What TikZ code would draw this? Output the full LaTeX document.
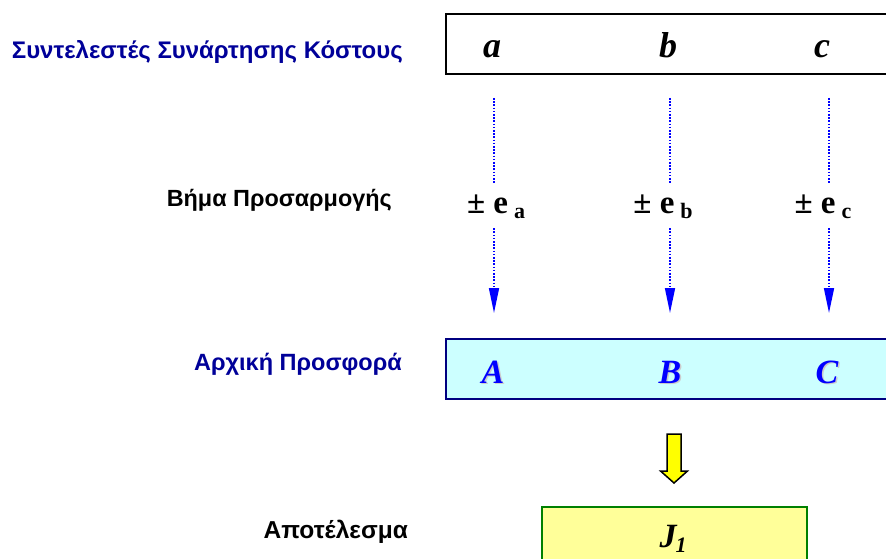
\documentclass[tikz,border=0pt]{standalone}
\usepackage{fontspec}
\setmainfont{Liberation Serif}
\setsansfont{Liberation Sans}
\usepackage{tikz}
\usetikzlibrary{arrows.meta,positioning,calc}
\definecolor{dgnavy}{HTML}{000099}
\definecolor{dgblue}{HTML}{0000FF}
\definecolor{dgcyan}{HTML}{CCFFFF}
\definecolor{dgframe}{HTML}{000080}
\definecolor{dgyellow}{HTML}{FFFF00}
\definecolor{dgpale}{HTML}{FFFF99}
\definecolor{dggreen}{HTML}{008000}
\tikzset{
  rowlabel/.style={anchor=base east,inner sep=0pt,font=\sffamily\bfseries\fontsize{#1}{28}\selectfont},
  coefletter/.style={anchor=base,inner sep=0pt,font=\bfseries\itshape\fontsize{36}{40}\selectfont},
  offerletter/.style={anchor=base,inner sep=0pt,text=dgblue,font=\bfseries\itshape\fontsize{34}{38}\selectfont},
  steplabel/.style={anchor=base,inner sep=0pt,text height=29pt,text depth=15pt,font=\bfseries\fontsize{33}{36}\selectfont},
  rowbox/.style={draw,line width=2pt,minimum width=446pt,minimum height=60pt,inner sep=0pt},
  dotline/.style={dgblue,line width=1.6pt,dash pattern=on 1.6pt off 1.6pt},
  dotarrow/.style={dotline,-{Triangle[length=25pt,width=10pt]}}
}
\newcommand{\stepsym}[1]{± e\kern6pt\raisebox{-5pt}{\fontsize{22}{22}\selectfont #1}}
\begin{document}
\begin{tikzpicture}[x=1pt,y=-1pt]
  \useasboundingbox (0,0) rectangle (886,559);
  \clip (0,0) rectangle (886,559);
  % row labels
  \node[rowlabel=24,text=dgnavy] (lcoef) at (403,59) {Συντελεστές Συνάρτησης Κόστους};
  \node[rowlabel=23.4] (lstep) at (392,206) {Βήμα Προσαρμογής};
  \node[rowlabel=23.5,text=dgnavy] (linit) at (402,370) {Αρχική Προσφορά};
  \node[rowlabel=24.5] (lres) at (408,538) {Αποτέλεσμα};
  % boxes
  \node[rowbox] (coef) at (669,44) {};
  \node[rowbox,draw=dgframe,fill=dgcyan] (init) at (669,369) {};
  \node[rowbox,draw=dggreen,fill=dgpale,minimum width=265pt,minimum height=68pt] (res) at (674.5,541) {};
  % coefficients, steps and offers
  \foreach \n/\xl/\xe/\xk/\xo/\l/\u in {a/492/496/494/493/a/A, b/668/663/670/670/b/B, c/822/823/829/827/c/C} {
    \node[coefletter] (\n) at (\xl,58) {\l};
    \node[steplabel] (e\n) at (\xe,213) {\stepsym{\l}};
    \node[offerletter,text=gray!40] (s\n) at (\xo+1.5,384.5) {\u};
    \node[offerletter] (o\n) at (\xo,383) {\u};
    \coordinate (k\n) at (\xk,98);
    \draw[dotline] (k\n) -- (k\n |- e\n.north);
    \draw[dotarrow,shorten >=25pt] (k\n |- e\n.south) -- (k\n |- init.north);
  }
  % block arrow
  \draw[fill=dgyellow,line width=1.5pt] (667,434) -- (681,434) -- (681,471) -- (687.5,471)
    -- (674,483) -- (660.5,471) -- (667,471) -- cycle;
  \node[coefletter,font=\bfseries\itshape\fontsize{34}{38}\selectfont] (j) at (673,547) {J\kern-1pt\raisebox{-5pt}{\fontsize{22}{22}\selectfont 1}};
\end{tikzpicture}
\end{document}
